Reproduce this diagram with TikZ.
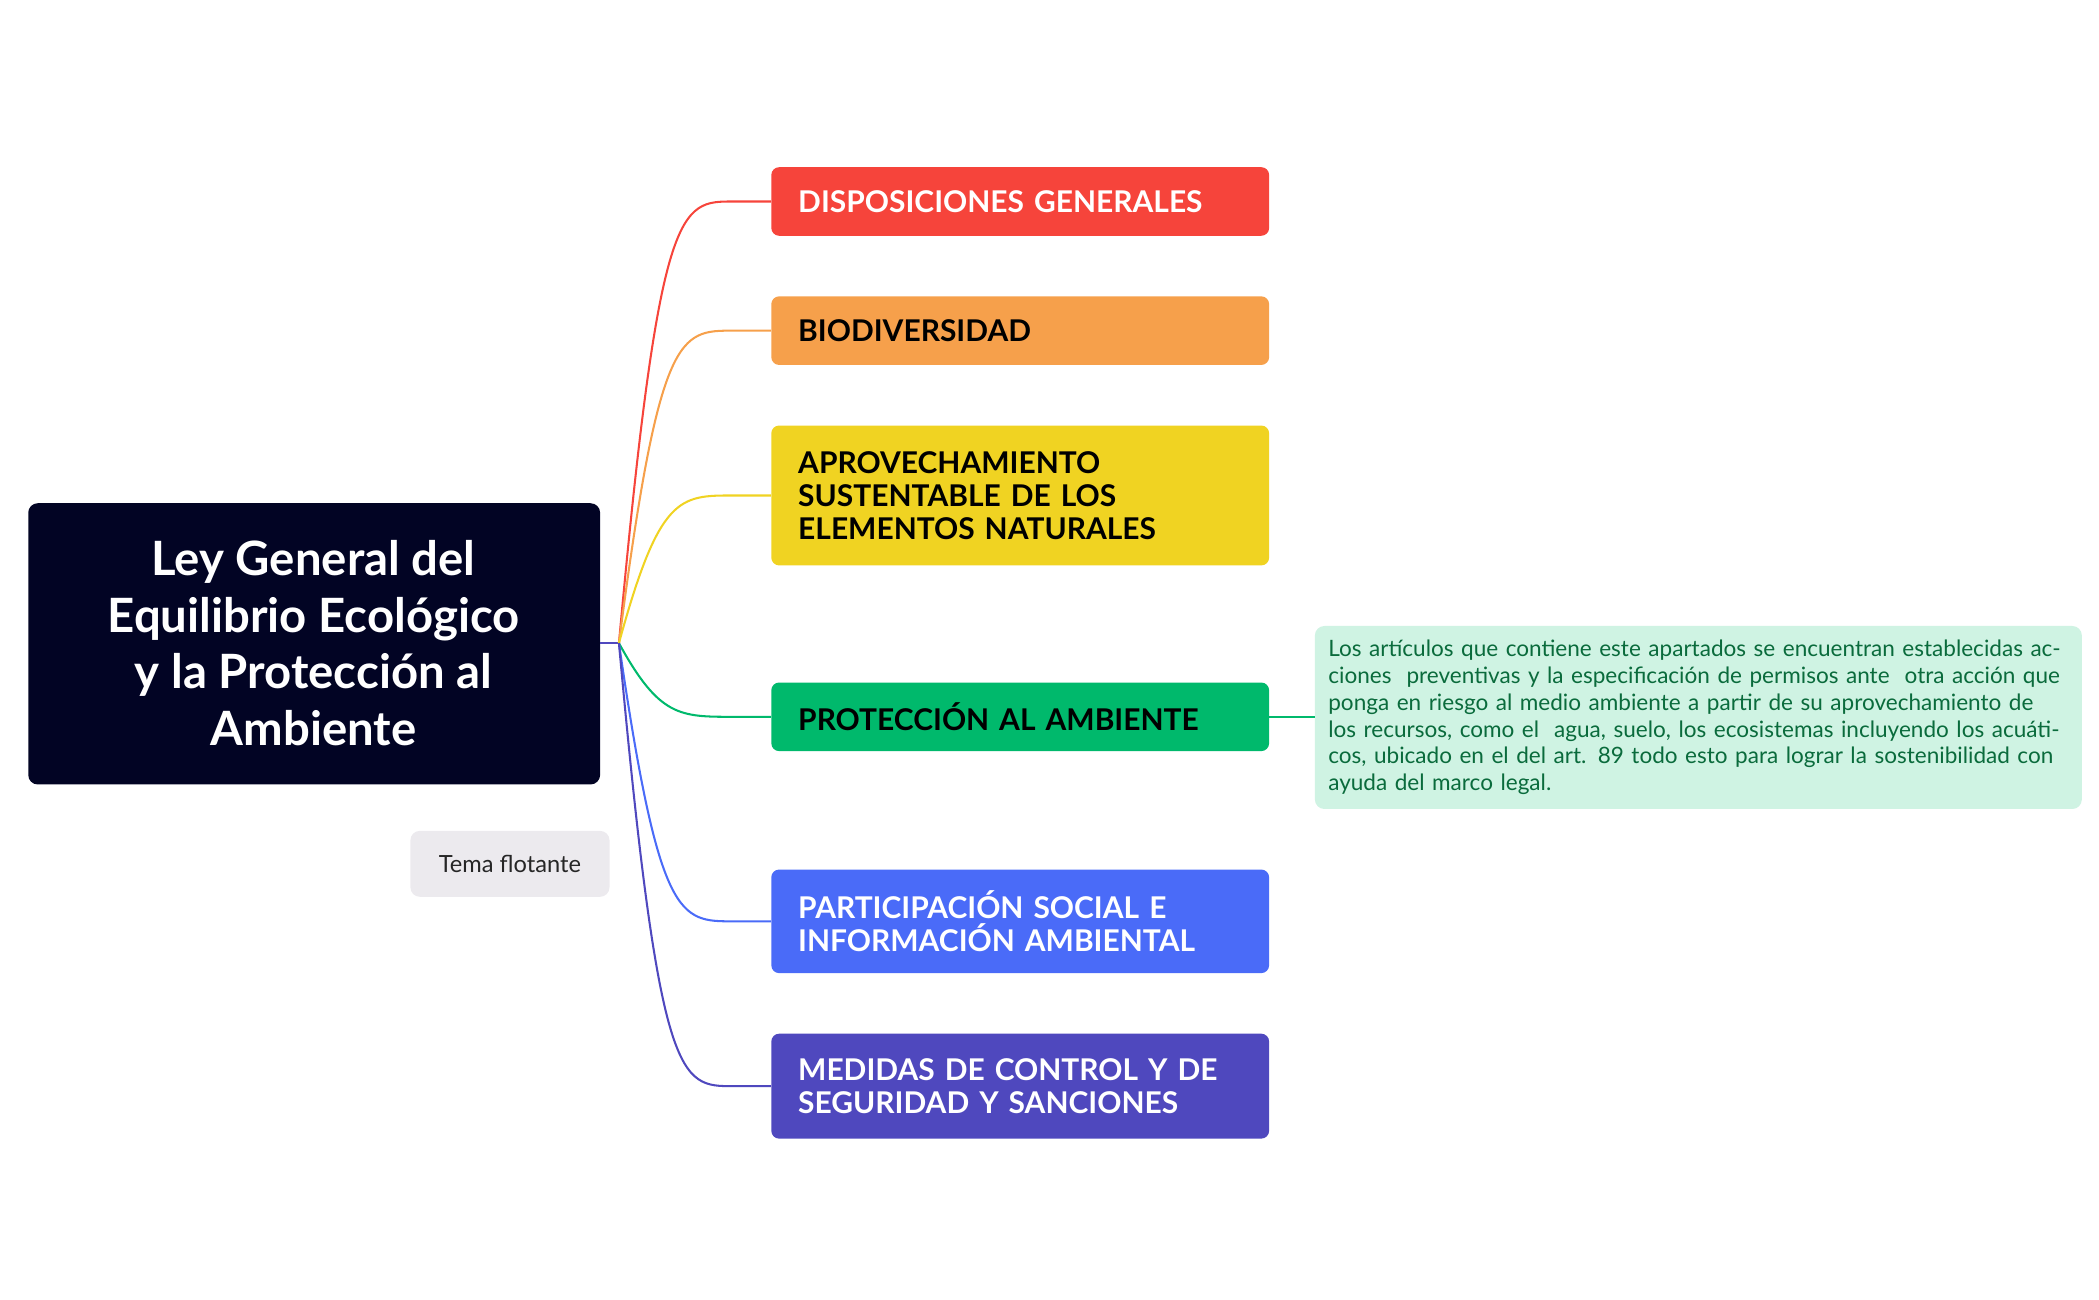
\documentclass[tikz,border=0pt]{standalone}
\usepackage{fontspec}
\setmainfont{Lato}
\definecolor{navy}{HTML}{020424}
\definecolor{cred}{HTML}{F6443B}
\definecolor{corange}{HTML}{F6A04B}
\definecolor{cyellow}{HTML}{F0D322}
\definecolor{cgreen}{HTML}{00B96C}
\definecolor{cblue}{HTML}{4A6BF8}
\definecolor{cpurple}{HTML}{4F48BE}
\definecolor{mint}{HTML}{CFF3E3}
\definecolor{notetext}{HTML}{0A6B3C}
\definecolor{flgray}{HTML}{ECEAEE}
\begin{document}
\begin{tikzpicture}[x=0.03cm,y=-0.03cm,
  topic/.style={rounded corners=5pt,minimum width=370*0.03cm,text width=330*0.03cm,align=left,font=\fontsize{19}{21}\selectfont\bfseries,inner sep=0pt,anchor=north west},
  conn/.style={line width=1.3pt}]
\useasboundingbox (0,0) rectangle (1560,966);
\fill[navy,rounded corners=6pt] (21,374) rectangle (446,583);
\node[text=white,font=\fontsize{30}{36}\selectfont\bfseries,align=center] (root) at (233,478) {Ley General del\\Equilibrio Ecológico\\y la Protección al\\Ambiente};
\coordinate (o) at (460,478);
\coordinate (rr) at (446,478);
\node[topic,fill=cred,text=white,minimum height=51*0.03cm] (b1) at (573,124) {DISPOSICIONES GENERALES};
\node[topic,fill=corange,text=black,minimum height=51*0.03cm] (b2) at (573,220) {BIODIVERSIDAD};
\node[topic,fill=cyellow,text=black,minimum height=104*0.03cm] (b3) at (573,316) {APROVECHAMIENTO\\SUSTENTABLE DE LOS\\ELEMENTOS NATURALES};
\node[topic,fill=cgreen,text=black,minimum height=51*0.03cm] (b4) at (573,507) {PROTECCIÓN AL AMBIENTE};
\node[topic,fill=cblue,text=white,minimum height=77*0.03cm] (b5) at (573,646) {PARTICIPACIÓN SOCIAL E\\INFORMACIÓN AMBIENTAL};
\node[topic,fill=cpurple,text=white,minimum height=78*0.03cm] (b6) at (573,768) {MEDIDAS DE CONTROL Y DE\\SEGURIDAD Y SANCIONES};
\draw[conn,cpurple] (rr) -- (o);
\foreach \n/\c in {b1/cred,b2/corange,b3/cyellow,b4/cgreen,b5/cblue,b6/cpurple}{
  \draw[conn,\c] (o) .. controls (490,0|-\n.west) and (505,0|-\n.west) .. (545,0|-\n.west) -- (\n.west);
}
\node[fill=mint,rounded corners=6pt,anchor=north west,minimum width=570*0.03cm,minimum height=136*0.03cm,text width=550*0.03cm,inner sep=0pt,align=left,text=notetext,font=\fontsize{14.3}{17}\selectfont] (note) at (977,465) {Los artículos que contiene este apartados se encuentran establecidas acciones\ \ preventivas y la especificación de permisos ante\ \ otra acción que ponga en riesgo al medio ambiente a partir de su aprovechamiento de los recursos, como el\ \ agua, suelo, los ecosistemas incluyendo los acuáticos, ubicado en el del art. 89 todo esto para lograr la sostenibilidad con ayuda del marco legal.};
\draw[conn,cgreen] (b4.east) -- (note.west|-b4.east);
\node[fill=flgray,rounded corners=6pt,minimum width=148*0.03cm,minimum height=49*0.03cm,font=\fontsize{15}{17}\selectfont,text=black!85] (fl) at (379,642) {Tema flotante};
\end{tikzpicture}
\end{document}
